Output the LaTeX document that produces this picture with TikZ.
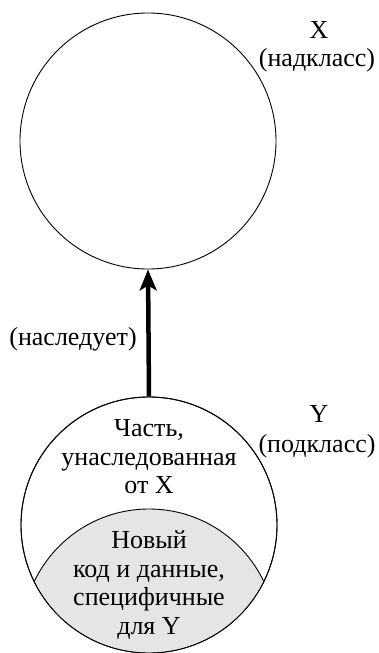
\documentclass[tikz,border=0pt]{standalone}
\usepackage{fontspec}
\setmainfont{Liberation Serif}
\usetikzlibrary{arrows.meta}
\begin{document}
\begin{tikzpicture}[x=1pt,y=-1pt,
  lbl/.style={font=\fontsize{26}{28.5}\selectfont, inner sep=0pt, align=center},
  cls/.style={circle, draw, line width=0.9pt, inner sep=0pt, minimum size=256pt}]
\useasboundingbox (0,0) rectangle (379,653);
\clip (0,0) rectangle (379,653);
\node[cls] (X) at (148,141) {};
\node[cls] (Y) at (149,525) {};
\begin{scope}
  \clip (149,525) circle (127.5);
  \fill[gray!20] (149,636) circle (127);
  \draw[line width=0.9pt] (149,636) circle (127);
\end{scope}
\node[cls] at (149,525) {};
\draw[line width=4.5pt, -{Stealth[length=21pt,width=17pt,inset=5pt]}] (Y.north) -- (X.south);
\node[lbl, anchor=base] (xl) at (319,38) {X};
\node[lbl, anchor=base] (xs) at (317,66) {(надкласс)};
\node[lbl, anchor=base] (inh) at (73,345) {(наследует)};
\node[lbl, anchor=base] (yl) at (319,422) {Y};
\node[lbl, anchor=base] (ys) at (317,452) {(подкласс)};
\node[lbl] (part) at (149,457) {Часть,\\унаследованная\\от X};
\node[lbl] (new) at (149,585) {Новый\\код и данные,\\специфичные\\для Y};
\end{tikzpicture}
\end{document}
